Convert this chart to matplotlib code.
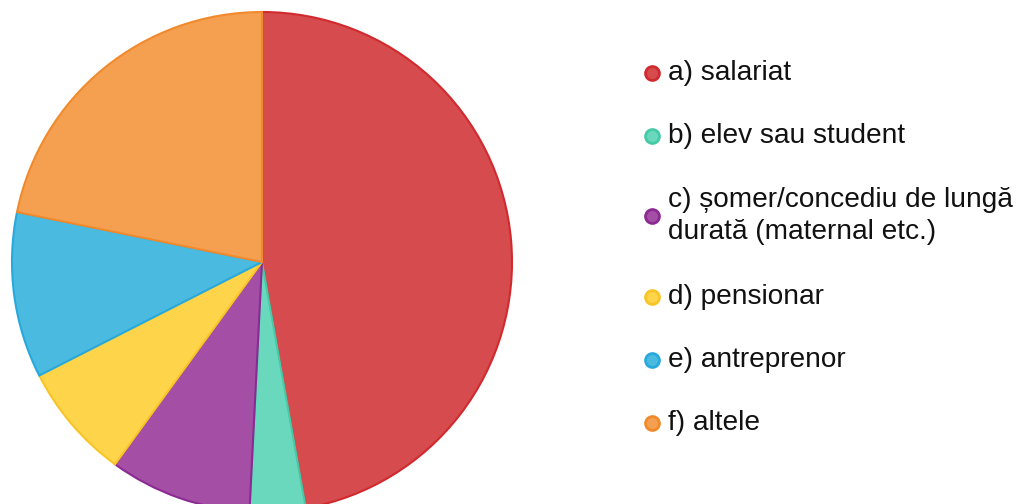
import matplotlib
matplotlib.use("Agg")
import matplotlib.pyplot as plt

# ---------------------------------------------------------------
# DATA
# ---------------------------------------------------------------

labels = [
    "a) salariat",
    "b) elev sau student",
    "c) șomer/concediu de lungă\ndurată (maternal etc.)",
    "d) pensionar",
    "e) antreprenor",
    "f) altele",
]

shares = [47.2, 3.6, 9.2, 7.5, 10.7, 21.8]

fill_colors = ["#D64B4D", "#6AD8BD", "#A44FA5", "#FDD44A", "#4BBAE0", "#F5A051"]
edge_colors = ["#D12A2E", "#45C9A6", "#8B2A92", "#F9C526", "#27A9DC", "#F08A2C"]

plt.rcParams["font.family"] = ["Liberation Sans", "DejaVu Sans"]

W, H = 1017, 504

fig = plt.figure(figsize=(W / 100, H / 100), dpi=100)
ax = fig.add_axes([0, 0, 1, 1])

# ---------------------------------------------------------------
# PIE
# ---------------------------------------------------------------

wedges, _ = ax.pie(
    shares,
    colors=fill_colors,
    startangle=90,
    counterclock=False,
    center=(262, H - 262),
    radius=250,
    wedgeprops=dict(linewidth=1.5),
    frame=True,
)

for wedge, edge in zip(wedges, edge_colors):
    wedge.set_edgecolor(edge)

ax.set_xlim(0, W)
ax.set_ylim(0, H)
ax.set_aspect("equal")
ax.axis("off")

# ---------------------------------------------------------------
# LEGEND
# ---------------------------------------------------------------

legend_y = [73, 136, 216, 297, 360, 423]

for label, fill, edge, y in zip(labels, fill_colors, edge_colors, legend_y):
    ax.plot(
        652,
        H - y,
        marker="o",
        markersize=10,
        markerfacecolor=fill,
        markeredgecolor=edge,
        markeredgewidth=2,
        clip_on=False,
    )
    ax.text(
        668,
        H - y,
        label,
        fontsize=20.2,
        va="center",
        ha="left",
        color="#111111",
        linespacing=1.3,
    )

fig.savefig("out.png", dpi=100)
